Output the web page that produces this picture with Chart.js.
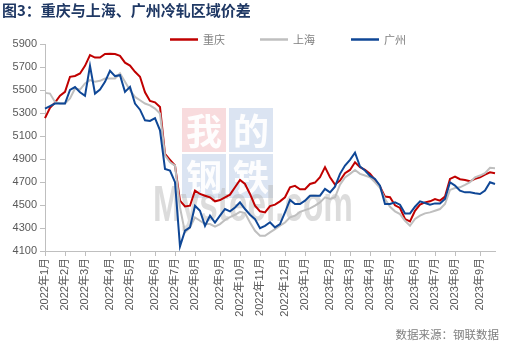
<!DOCTYPE html>
<html>
<head>
<meta charset="utf-8">
<script src="https://cdn.jsdelivr.net/npm/chart.js@4/dist/chart.umd.min.js"></script>
<style>
html,body{margin:0;padding:0;background:#fff;}
#wrap{position:relative;width:507px;height:345px;}
</style>
</head>
<body>
<div id="wrap"><canvas id="c" width="507" height="345"></canvas></div>
<script>
// ---- text ----
const titleText = '图3：重庆与上海、广州冷轧区域价差';
const sourceText = '数据来源：钢联数据';
const seriesNames = ['重庆', '上海', '广州'];
const monthLabels = ['2022年1月','2022年2月','2022年3月','2022年4月','2022年5月','2022年6月',
  '2022年7月','2022年8月','2022年9月','2022年10月','2022年11月','2022年12月',
  '2023年1月','2023年2月','2023年3月','2023年4月','2023年5月','2023年6月',
  '2023年7月','2023年8月','2023年9月'];
const firstWeek = '2022-01-01';   // weekly samples from this date
const yMin = 4100, yMax = 5900, yStep = 200;

// ---- series (weekly readings, 元/吨) ----
const chongqing = [5255,5345,5390,5450,5484,5615,5622,5644,5710,5804,5782,5782,5813,5816,5813,5797,5738,5712,5658,5615,
  5480,5405,5393,5353,4945,4893,4843,4538,4488,4494,4625,4596,4581,4567,4532,4543,4567,4590,4654,4718,
  4683,4596,4494,4445,4436,4490,4503,4532,4567,4654,4666,4637,4637,4683,4695,4741,4829,4741,4677,4712,
  4776,4805,4872,4829,4805,4771,4718,4660,4573,4567,4497,4474,4378,4357,4450,4503,4523,4532,4552,4538,
  4573,4727,4747,4724,4718,4706,4727,4741,4765,4785,4776];
const shanghai = [5475,5469,5396,5382,5382,5426,5513,5504,5557,5586,5571,5580,5600,5600,5600,5644,5571,5498,5440,5411,
  5382,5367,5338,5295,4931,4872,4843,4479,4261,4305,4392,4363,4334,4334,4311,4334,4370,4395,4415,4440,
  4430,4348,4276,4232,4232,4262,4290,4320,4348,4392,4407,4440,4455,4470,4494,4523,4567,4552,4567,4677,
  4740,4771,4805,4771,4756,4741,4698,4650,4552,4485,4445,4421,4363,4319,4378,4407,4427,4436,4450,4465,
  4509,4631,4648,4654,4675,4698,4741,4756,4776,4823,4820];
const guangzhou = [5338,5360,5382,5382,5382,5500,5525,5480,5450,5710,5469,5504,5571,5667,5621,5629,5484,5527,5382,5329,
  5236,5231,5255,5149,4814,4800,4698,4140,4276,4305,4494,4450,4319,4407,4348,4407,4465,4445,4479,4523,
  4465,4415,4378,4299,4319,4350,4305,4334,4436,4544,4509,4509,4538,4581,4581,4581,4640,4610,4660,4771,
  4843,4893,4955,4835,4800,4753,4727,4668,4509,4509,4523,4503,4427,4427,4485,4532,4517,4503,4514,4514,
  4552,4698,4669,4625,4610,4610,4602,4596,4625,4698,4683];

// ---- categories: weekly dates ----
const DAY = 86400000;
const t0 = Date.parse(firstWeek + 'T00:00:00Z');
const weekDates = chongqing.map((_, k) => new Date(t0 + k * 7 * DAY).toISOString().slice(0, 10));
// index of the weekly sample nearest each month start
const monthIdx = monthLabels.map(s => {
  const m = s.match(/(\d+)年(\d+)月/);
  const t = Date.UTC(+m[1], +m[2] - 1, 1);
  return Math.round((t - t0) / (7 * DAY));
});

const FONT = '"Liberation Sans", "Noto Sans CJK SC", sans-serif';
const CJK = '"Noto Sans CJK SC", sans-serif';

const decor = {
  id: 'decor',
  beforeDatasetsDraw(chart) {
    const ctx = chart.ctx;
    ctx.save();
    // watermark logo blocks
    const blocks = [
      {x: 182, y: 108, c: 'rgba(236,160,165,0.38)', t: '我'},
      {x: 229, y: 108, c: 'rgba(160,185,220,0.38)', t: '的'},
      {x: 182, y: 154, c: 'rgba(160,185,220,0.38)', t: '钢'},
      {x: 229, y: 154, c: 'rgba(160,185,220,0.38)', t: '铁'}
    ];
    blocks.forEach(b => {
      ctx.fillStyle = b.c;
      ctx.fillRect(b.x, b.y, 44, 44);
      ctx.fillStyle = 'rgba(255,255,255,0.95)';
      ctx.font = 'bold 36px ' + CJK;
      ctx.textAlign = 'center';
      ctx.textBaseline = 'middle';
      ctx.fillText(b.t, b.x + 22, b.y + 23);
    });
    // watermark text
    ctx.font = 'bold 50px "Liberation Sans", sans-serif';
    const w = ctx.measureText('Mysteel.com').width;
    ctx.translate(153, 221);
    ctx.scale(200 / w, 1);
    ctx.fillStyle = 'rgba(185,185,185,0.5)';
    ctx.textAlign = 'left';
    ctx.textBaseline = 'alphabetic';
    ctx.fillText('Mysteel.com', 0, 0);
    ctx.restore();
  },
  afterDraw(chart) {
    const ctx = chart.ctx;
    ctx.save();
    // title
    ctx.fillStyle = '#1F3864';
    ctx.font = 'bold 15px ' + CJK;
    ctx.textAlign = 'left';
    ctx.textBaseline = 'middle';
    ctx.fillText(titleText, 2, 10);
    // legend
    const lx = [170, 260, 351];
    chart.data.datasets.forEach((ds, i) => {
      ctx.strokeStyle = ds.borderColor;
      ctx.lineWidth = 2.5;
      ctx.beginPath();
      ctx.moveTo(lx[i], 39.5);
      ctx.lineTo(lx[i] + 28, 39.5);
      ctx.stroke();
      ctx.fillStyle = '#7F7F7F';
      ctx.font = '11px ' + CJK;
      ctx.textBaseline = 'middle';
      ctx.fillText(ds.label, lx[i] + 33, 40);
    });
    // source
    ctx.fillStyle = '#7F7F7F';
    ctx.font = '11.5px ' + CJK;
    ctx.textAlign = 'right';
    ctx.fillText(sourceText, 499, 335);
    ctx.restore();
  }
};

new Chart(document.getElementById('c').getContext('2d'), {
  type: 'line',
  data: {
    labels: weekDates,
    datasets: [
      {label: seriesNames[0], data: chongqing, borderColor: '#C00000', borderWidth: 2, pointRadius: 0, tension: 0, order: 2},
      {label: seriesNames[1], data: shanghai, borderColor: '#BFBFBF', borderWidth: 2, pointRadius: 0, tension: 0, order: 1},
      {label: seriesNames[2], data: guangzhou, borderColor: '#0F4796', borderWidth: 2, pointRadius: 0, tension: 0, order: 0}
    ]
  },
  options: {
    responsive: false,
    animation: false,
    layout: {padding: {top: 44, right: 12, left: 0, bottom: 0}},
    plugins: {legend: {display: false}, title: {display: false}, tooltip: {enabled: false}},
    scales: {
      x: {
        type: 'category',
        offset: false,
        border: {display: true, color: '#BFBFBF', width: 1},
        grid: {drawOnChartArea: false, drawTicks: true, tickLength: 5, color: '#BFBFBF'},
        afterBuildTicks: s => { s.ticks = monthIdx.map(i => ({value: i})); },
        afterFit: s => { s.height = 94; },
        ticks: {
          autoSkip: false, minRotation: 90, maxRotation: 90, padding: 2,
          color: '#595959', font: {size: 11, family: FONT},
          callback: (v, i) => monthLabels[i]
        }
      },
      y: {
        min: yMin, max: yMax,
        border: {display: true, color: '#BFBFBF', width: 1},
        grid: {drawOnChartArea: false, drawTicks: true, tickLength: 5, color: '#BFBFBF'},
        afterFit: s => { s.width = 45; },
        ticks: {
          stepSize: yStep, padding: 3,
          color: '#595959', font: {size: 11, family: FONT},
          callback: v => String(v)
        }
      }
    }
  },
  plugins: [decor]
});
</script>
</body>
</html>
